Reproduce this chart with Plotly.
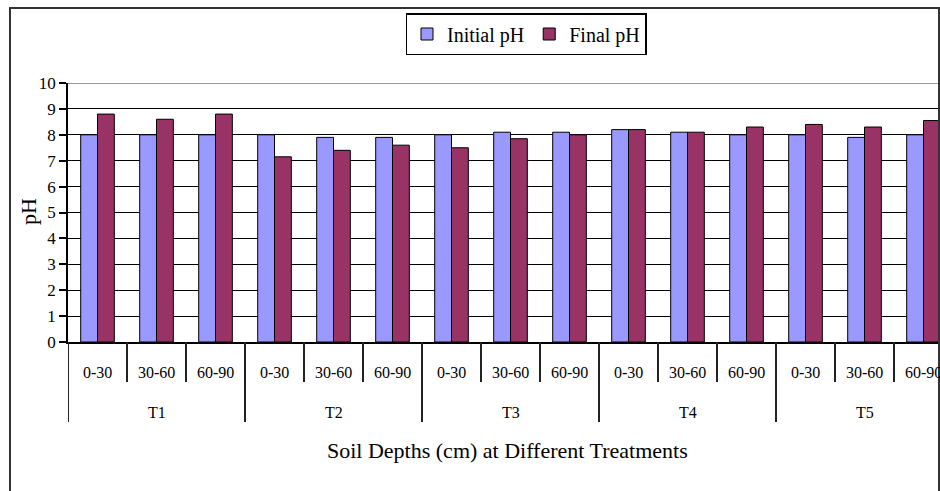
import plotly.graph_objects as go

treatments = ["T1", "T2", "T3", "T4", "T5"]
depths = ["0-30", "30-60", "60-90"]
initial_ph = [8.0, 8.0, 8.0, 8.0, 7.9, 7.9, 8.0, 8.1, 8.1, 8.2, 8.1, 8.0, 8.0, 7.9, 8.0]
final_ph = [8.8, 8.6, 8.8, 7.15, 7.4, 7.6, 7.5, 7.85, 8.0, 8.2, 8.1, 8.3, 8.4, 8.3, 8.55]
y_ticks = list(range(0, 11))

categories = [f"{t} {d}" for t in treatments for d in depths]

W, H = 940, 491
ML, MR, MT, MB = 68, 2, 83, 149
PW = W - ML - MR
PH = H - MT - MB
FONT = "Liberation Serif, Times New Roman, serif"


def py(pix):
    return (H - MB - pix) / PH


def px(pix):
    return (pix - ML) / PW


fig = go.Figure()
fig.add_trace(go.Bar(name="Initial pH", x=categories, y=initial_ph,
                     marker=dict(color="#9999FF", line=dict(color="black", width=1))))
fig.add_trace(go.Bar(name="Final pH", x=categories, y=final_ph,
                     marker=dict(color="#993366", line=dict(color="black", width=1))))

shapes = []
n = len(categories)
for i in range(n + 1):
    xb = i - 0.5
    if i % len(depths) == 0:
        y0 = py(422)
    else:
        y0 = py(382)
    shapes.append(dict(type="line", xref="x", yref="paper", x0=xb, x1=xb, y0=0, y1=y0,
                       line=dict(color="#222", width=2)))
# top gridline at the range maximum
shapes.append(dict(type="line", xref="paper", yref="y", x0=0, x1=1, y0=y_ticks[-1], y1=y_ticks[-1],
                   line=dict(color="#777", width=1.5), layer="below"))
# outer frame
shapes.append(dict(type="rect", xref="paper", yref="paper", x0=px(10), x1=px(939),
                   y0=py(520), y1=py(8), line=dict(color="#333", width=2), layer="above"))

annotations = []
for i, c in enumerate(categories):
    annotations.append(dict(x=c, y=py(372), xref="x", yref="paper", text=depths[i % 3],
                            showarrow=False, yanchor="middle",
                            font=dict(family=FONT, size=16, color="black")))
for k, t in enumerate(treatments):
    annotations.append(dict(x=categories[k * 3 + 1], y=py(412), xref="x", yref="paper", text=t,
                            showarrow=False, yanchor="middle",
                            font=dict(family=FONT, size=16, color="black")))
annotations.append(dict(x=px(507), y=py(450), xref="paper", yref="paper",
                        text="Soil Depths (cm) at Different Treatments", showarrow=False,
                        yanchor="middle", font=dict(family=FONT, size=22, color="black")))
annotations.append(dict(x=px(28), y=py(212), xref="paper", yref="paper", text="pH",
                        textangle=-90, showarrow=False, xanchor="center", yanchor="middle",
                        font=dict(family=FONT, size=22, color="black")))

fig.update_layout(
    width=W, height=H,
    margin=dict(l=ML, r=MR, t=MT, b=MB),
    paper_bgcolor="white", plot_bgcolor="white",
    barmode="group", bargap=0.43, bargroupgap=0,
    font=dict(family=FONT, color="black"),
    showlegend=True,
    legend=dict(orientation="h", x=px(526), xanchor="center", y=py(13), yanchor="top",
                bordercolor="black", borderwidth=1.5, bgcolor="white",
                font=dict(family=FONT, size=20, color="black"), itemwidth=30),
    xaxis=dict(type="category", range=[-0.5, -0.5 + (938 - 68.3) / 58.98],
               showticklabels=False, ticks="", showgrid=False,
               showline=True, linecolor="black", linewidth=1.5, fixedrange=True),
    yaxis=dict(range=[0, 10], tickvals=y_ticks, showgrid=True, gridcolor="black", gridwidth=1,
               ticks="outside", ticklen=7, tickcolor="black", tickwidth=1.5,
               showline=True, linecolor="black", linewidth=1.5, zeroline=False,
               tickfont=dict(family=FONT, size=17, color="black"), fixedrange=True),
    shapes=shapes,
    annotations=annotations,
)

fig.write_html("out.html", config={"displayModeBar": False},
               post_script="document.body.style.margin='0';")
